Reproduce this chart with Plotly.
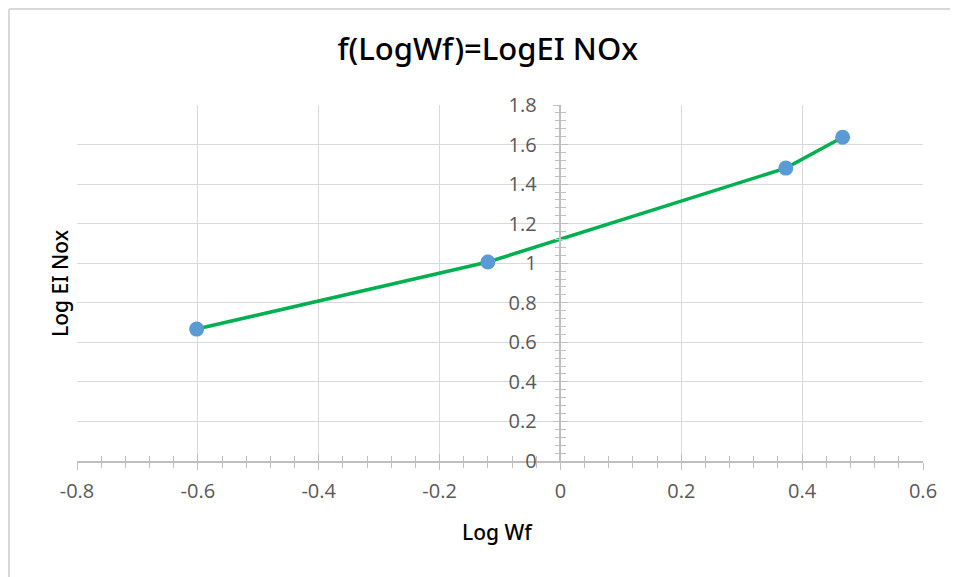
import plotly.graph_objects as go

# data
log_wf = [-0.602, -0.120, 0.373, 0.467]
log_ei_nox = [0.667, 1.006, 1.481, 1.637]

x_range = [-0.8, 0.6]
y_range = [0, 1.8]
x_ticks = [-0.8, -0.6, -0.4, -0.2, 0, 0.2, 0.4, 0.6]
x_labels = ["-0.8", "-0.6", "-0.4", "-0.2", "0", "0.2", "0.4", "0.6"]
y_ticks = [0, 0.2, 0.4, 0.6, 0.8, 1.0, 1.2, 1.4, 1.6, 1.8]
y_labels = ["0", "0.2", "0.4", "0.6", "0.8", "1", "1.2", "1.4", "1.6", "1.8"]

# page body has an 8px margin, so the figure is shrunk by that much
W, H = 950, 569
L, R, T, B = 69, 35, 97, 116

grid_col = "#d9d9d9"
axis_col = "#bfbfbf"
tick_font = dict(family="Open Sans, Liberation Sans, sans-serif", size=20, color="#595959")
label_font = "Noto Sans, Open Sans, sans-serif"

# y axis crosses at x = 0
y_pos = (0 - x_range[0]) / (x_range[1] - x_range[0])

fig = go.Figure()
fig.add_trace(go.Scatter(
    x=log_wf, y=log_ei_nox, mode="lines",
    line=dict(color="#00b050", width=3.5), hoverinfo="skip", showlegend=False))
fig.add_trace(go.Scatter(
    x=log_wf, y=log_ei_nox, mode="markers",
    marker=dict(color="#5b9bd5", size=15), showlegend=False))
# dummy trace so the second pair of axes (inner half of the cross ticks) is drawn
fig.add_trace(go.Scatter(x=[None], y=[None], xaxis="x2", yaxis="y2", showlegend=False))

fig.update_layout(
    width=W, height=H,
    margin=dict(l=L, r=R, t=T, b=B),
    plot_bgcolor="white", paper_bgcolor="white",
    title=dict(text="f(LogWf)=LogEI NOx", x=0.505, xanchor="center", y=0.928, yanchor="middle",
               font=dict(family=label_font, size=31, color="#000000", weight=500)),
    xaxis=dict(range=x_range, tickvals=x_ticks, ticktext=x_labels, showgrid=True, gridcolor=grid_col, gridwidth=1.3,
               zeroline=False, showline=True, linecolor=axis_col, linewidth=1.5,
               ticks="outside", ticklen=7, tickcolor=axis_col, tickwidth=1.3,
               minor=dict(dtick=0.04, tick0=-0.8, ticks="outside", ticklen=5, tickcolor=axis_col, tickwidth=1.3, showgrid=False),
               tickfont=tick_font, ticklabelstandoff=4),
    yaxis=dict(range=y_range, tickvals=y_ticks, ticktext=y_labels, showgrid=True, gridcolor=grid_col, gridwidth=1.3,
               zeroline=False, showline=True, linecolor=axis_col, linewidth=1.5,
               anchor="free", position=y_pos,
               ticks="outside", ticklen=7, tickcolor=axis_col, tickwidth=1.3,
               minor=dict(dtick=0.04, tick0=0, ticks="outside", ticklen=5, tickcolor=axis_col, tickwidth=1.3, showgrid=False),
               tickfont=tick_font, ticklabelstandoff=12),
    xaxis2=dict(range=x_range, overlaying="x", anchor="y", side="bottom", showgrid=False, zeroline=False,
                showticklabels=False, ticks="inside", ticklen=7, tickcolor=axis_col, tickwidth=1.3, dtick=0.2, tick0=-0.8,
                minor=dict(dtick=0.04, tick0=-0.8, ticks="inside", ticklen=5, tickcolor=axis_col, tickwidth=1.3)),
    yaxis2=dict(range=y_range, overlaying="y", anchor="free", position=y_pos, side="left", showgrid=False,
                zeroline=False, showticklabels=False, ticks="inside", ticklen=7, tickcolor=axis_col, tickwidth=1.3,
                dtick=0.2, tick0=0,
                minor=dict(dtick=0.04, tick0=0, ticks="inside", ticklen=5, tickcolor=axis_col, tickwidth=1.3)),
)

# axis titles
fig.add_annotation(text="Log Wf", xref="paper", yref="paper", x=0.497, y=-0.199,
                   xanchor="center", yanchor="middle", showarrow=False,
                   font=dict(family=label_font, size=21, color="#000000", weight=500))
fig.add_annotation(text="Log EI Nox", xref="paper", yref="paper", x=-0.020, y=0.5,
                   xanchor="center", yanchor="middle", showarrow=False, textangle=-90,
                   font=dict(family=label_font, size=21, color="#000000", weight=500))

# chart frame (left and top edges visible in the reference)
pw, ph = W - L - R, H - T - B
fx0 = (1 - L) / pw
fy1 = (H - B - 1) / ph
fig.add_shape(type="line", xref="paper", yref="paper", x0=fx0, x1=fx0, y0=-B / ph, y1=fy1,
              line=dict(color="#d9d9d9", width=2))
fig.add_shape(type="line", xref="paper", yref="paper", x0=fx0, x1=(W - L) / pw, y0=fy1, y1=fy1,
              line=dict(color="#d9d9d9", width=2))

fig.write_html("out.html")
